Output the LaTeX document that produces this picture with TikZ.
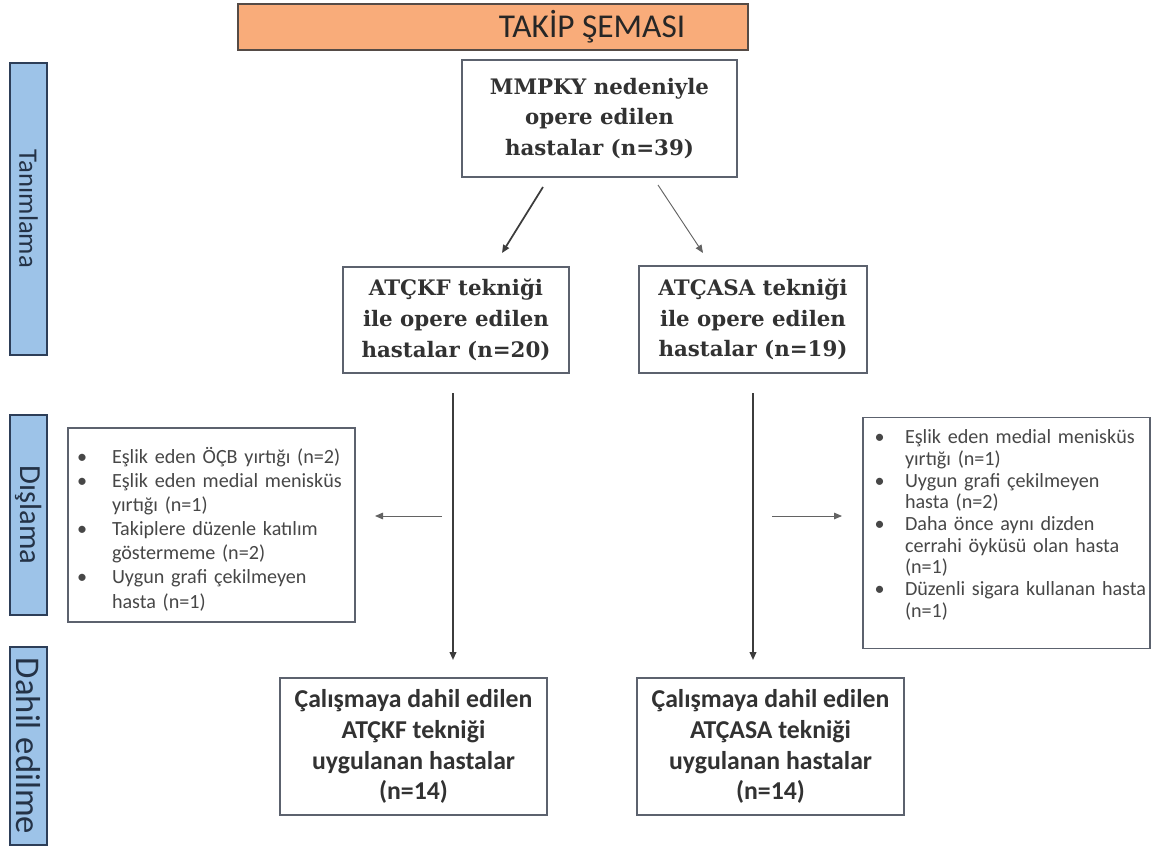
\documentclass[tikz,border=0pt]{standalone}
\usepackage{fontspec}
\setmainfont{Carlito}
\newfontfamily\boxserif{DejaVu Serif}
\usetikzlibrary{arrows.meta,calc,positioning}

\definecolor{titleorange}{RGB}{249,172,122}
\definecolor{titleline}{RGB}{85,75,70}
\definecolor{barblue}{RGB}{157,195,232}
\definecolor{barline}{RGB}{45,62,88}
\definecolor{boxline}{RGB}{92,98,110}
\definecolor{textgray}{RGB}{50,50,50}
\definecolor{arrowgray}{RGB}{60,60,60}

% bullet list for the exclusion boxes
% #1 = text indent, #2 = bullet indent
\newenvironment{excllist}[2]{%
  \begin{list}{\textbullet}{%
    \setlength{\leftmargin}{#1}%
    \setlength{\labelsep}{0pt}%
    \setlength{\labelwidth}{#1}%
    \setlength{\itemsep}{0pt}%
    \setlength{\parsep}{0pt}%
    \setlength{\topsep}{0pt}%
    \setlength{\partopsep}{0pt}%
    \renewcommand{\makelabel}[1]{\makebox[\labelwidth][l]{\hspace*{#2}##1}}}}%
  {\end{list}}

\begin{document}
\begin{tikzpicture}[
  x={(0.75pt,0pt)},
  y={(0pt,-0.75pt)},
  titlebar/.style={draw=titleline,line width=1.2pt,fill=titleorange,
    minimum width=382.5pt,minimum height=34.5pt,inner sep=0pt},
  titletext/.style={font=\fontsize{25}{30}\selectfont,text=black!85},
  sidebar/.style={draw=barline,line width=1pt,fill=barblue,rotate=-90,
    minimum height=27.75pt,inner sep=0pt,text=barline!80!black},
  mainbox/.style={draw=boxline,line width=1.4pt,fill=white,align=center,
    inner sep=0pt,text=textgray,
    font=\boxserif\bfseries\fontsize{16}{23}\selectfont},
  inclbox/.style={draw=boxline,line width=1.4pt,fill=white,align=center,
    inner sep=0pt,text=textgray,
    font=\bfseries\fontsize{19.3}{23.2}\selectfont,
    minimum width=200.25pt,minimum height=102.75pt},
  exclbox/.style={draw=boxline,line width=1pt,fill=white,align=left,
    text=black!72,text width=215.25pt,inner xsep=0pt},
  flow/.style={draw=arrowgray,line width=1.3pt,
    -{Triangle[length=6pt,width=5pt]}},
  flowthin/.style={draw=arrowgray!80,line width=0.7pt,
    -{Triangle[length=6pt,width=5pt]}}
]
\useasboundingbox (0,0) rectangle (1154,846);

% Title
\node[titlebar] (title) at (493,27) {};
\node[titletext] (titletxt) at (592,27) {TAKİP ŞEMASI};

% Side bars
\node[sidebar,minimum width=219pt,font=\fontsize{20}{24}\selectfont]
  (tanim) at (28.5,209) {Tanımlama};
\node[sidebar,minimum width=150pt,font=\fontsize{23}{27}\selectfont]
  (disla) at (28.5,515) {Dışlama};
\node[sidebar,minimum width=148.5pt,font=\fontsize{26}{30}\selectfont]
  (dahil) at (28.5,746) {Dahil edilme};

% Operated patients
\node[mainbox,minimum width=206.25pt,minimum height=87.75pt]
  (mmpky) at (599.5,118.5)
  {MMPKY nedeniyle\\opere edilen\\hastalar (n=39)};

% Technique groups
\node[mainbox,minimum width=169.5pt,minimum height=79.5pt]
  (atckf) at (456,320)
  {ATÇKF tekniği\\ile opere edilen\\hastalar (n=20)};
\node[mainbox,minimum width=171pt,minimum height=80.25pt]
  (atcasa) at (753,319.5)
  {ATÇASA tekniği\\ile opere edilen\\hastalar (n=19)};

% Exclusions
\node[exclbox,minimum height=145.5pt,
  font=\fontsize{15.1}{18.1}\selectfont]
  (exclL) at (211.5,525)
  {\begin{excllist}{33pt}{6.75pt}
   \item Eşlik eden ÖÇB yırtığı (n=2)
   \item Eşlik eden medial menisküs\\yırtığı (n=1)
   \item Takiplere düzenle katılım\\göstermeme (n=2)
   \item Uygun grafi çekilmeyen\\hasta (n=1)
   \end{excllist}};
\node[exclbox,minimum height=172.5pt,
  font=\fontsize{15.1}{16.3}\selectfont]
  (exclR) at (1006.5,533)
  {\begin{excllist}{31.5pt}{8.75pt}
   \item Eşlik eden medial menisküs\\yırtığı (n=1)
   \item Uygun grafi çekilmeyen\\hasta (n=2)
   \item Daha önce aynı dizden\\cerrahi öyküsü olan hasta\\(n=1)
   \item Düzenli sigara kullanan hasta\\(n=1)
   \end{excllist}\vspace*{18pt}};

% Included patients
\node[inclbox] (inclL) at (413.5,746.5)
  {Çalışmaya dahil edilen\\ATÇKF tekniği\\uygulanan hastalar\\(n=14)};
\node[inclbox] (inclR) at (770.5,746.5)
  {Çalışmaya dahil edilen\\ATÇASA tekniği\\uygulanan hastalar\\(n=14)};

% Arrow end points
\coordinate (splitL) at (543,187);
\coordinate (splitLend) at (502,253);
\coordinate (splitR) at (658,185);
\coordinate (splitRend) at (703,253);
\coordinate (downL) at (453,393);
\coordinate (downLend) at (453,660);
\coordinate (downR) at (753,393);
\coordinate (downRend) at (753,660);
\coordinate (outL) at (442,516);
\coordinate (outLend) at (375,516);
\coordinate (outR) at (772,516);
\coordinate (outRend) at (842,516);

% Arrows
\draw[flow] (splitL) -- (splitLend);
\draw[flowthin] (splitR) -- (splitRend);
\draw[flow] (downL) -- (downLend);
\draw[flow] (downR) -- (downRend);
\draw[flowthin] (outL) -- (outLend);
\draw[flowthin] (outR) -- (outRend);

\end{tikzpicture}
\end{document}
